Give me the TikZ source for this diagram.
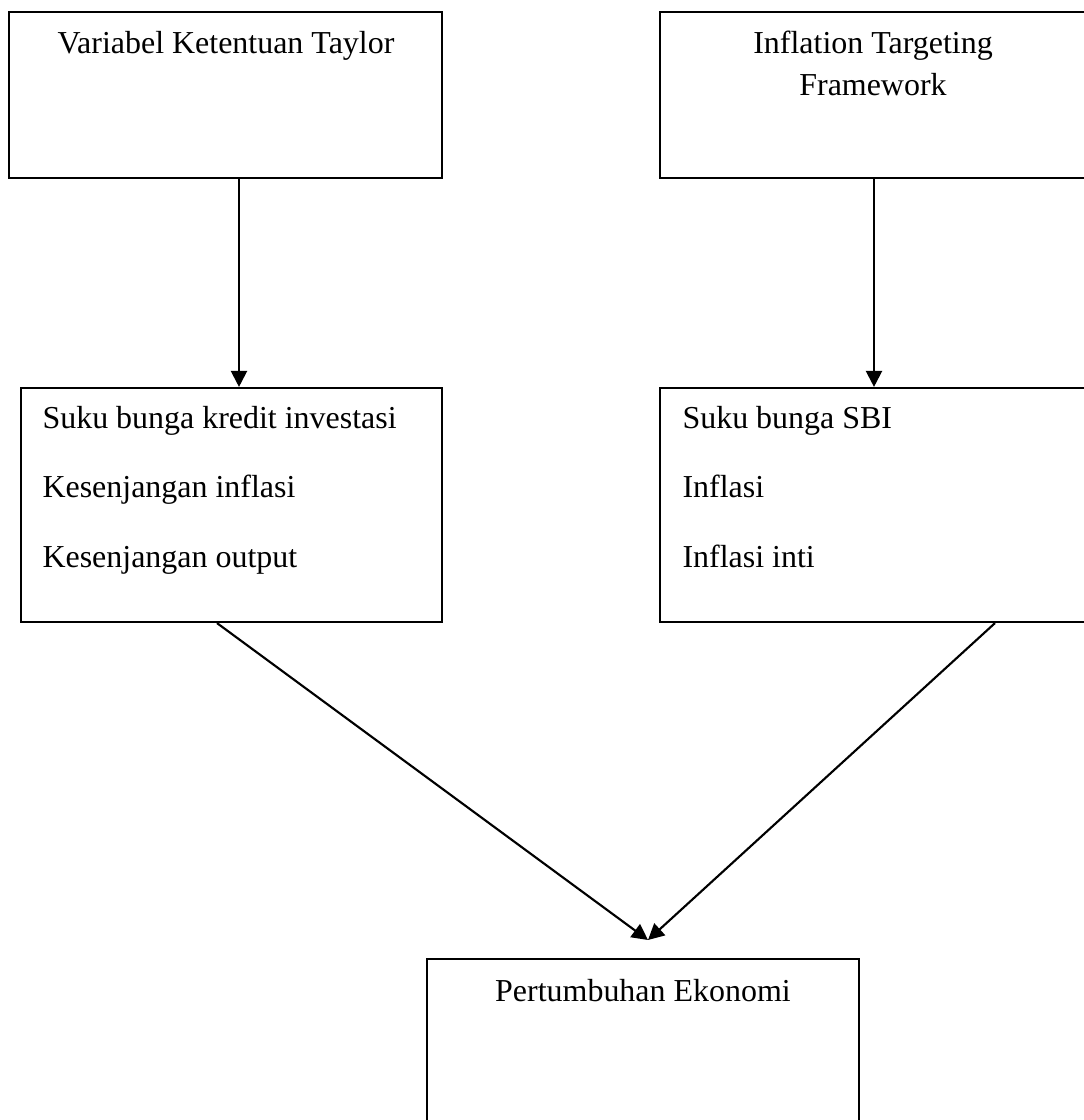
\documentclass[tikz,border=0pt]{standalone}
\usepackage{fontspec}
\setmainfont{Liberation Serif}
\usetikzlibrary{positioning, calc, arrows.meta}

\def\u{0.0132cm}

\begin{document}
\begin{tikzpicture}[x=0.0132cm, y=-0.0132cm,
    kotak/.style={draw, line width=0.8pt, inner sep=0pt},
    panah/.style={line width=0.8pt, -{Triangle[length=6pt, width=6pt]}},
    teks/.style={font=\fontsize{12}{14}\selectfont, inner sep=0pt}]
  \useasboundingbox (0,0) rectangle (1084,1120);
  \clip (0,0) rectangle (1084,1120);

  % kotak
  \node[kotak, minimum width=433*\u, minimum height=166*\u] (taylor) at (225.5,95) {};
  \node[kotak, minimum width=440*\u, minimum height=166*\u] (itf) at (880,95) {};
  \node[kotak, minimum width=421*\u, minimum height=234*\u] (variabel) at (231.5,505) {};
  \node[kotak, minimum width=440*\u, minimum height=234*\u] (sbi) at (880,505) {};
  \node[kotak, minimum width=432*\u, minimum height=190*\u] (tumbuh) at (643,1054) {};

  % teks
  \node[teks, anchor=base] (tTaylor) at (226,53) {Variabel Ketentuan Taylor};
  \node[teks, anchor=base] (tItf1) at (873,53) {Inflation Targeting};
  \node[teks, anchor=base] (tItf2) at (873,95) {Framework};
  \node[teks, anchor=base west] (tV1) at (42,428) {Suku bunga kredit investasi};
  \node[teks, anchor=base west] (tV2) at (42,497) {Kesenjangan inflasi};
  \node[teks, anchor=base west] (tV3) at (42,567) {Kesenjangan output};
  \node[teks, anchor=base west] (tS1) at (682,428) {Suku bunga SBI};
  \node[teks, anchor=base west] (tS2) at (682,497) {Inflasi};
  \node[teks, anchor=base west] (tS3) at (682,567) {Inflasi inti};
  \node[teks, anchor=base] (tTumbuh) at (643,1001) {Pertumbuhan Ekonomi};

  % panah
  \coordinate (xa) at (239,0);
  \coordinate (xb) at (874,0);
  \coordinate (xc) at (217,0);
  \coordinate (xd) at (995,0);
  \coordinate (temu) at (648,940);
  \draw[panah] (taylor.south -| xa) -- (variabel.north -| xa);
  \draw[panah] (itf.south -| xb) -- (sbi.north -| xb);
  \draw[panah] (variabel.south -| xc) -- (temu);
  \draw[panah] (sbi.south -| xd) -- (temu);
\end{tikzpicture}
\end{document}
